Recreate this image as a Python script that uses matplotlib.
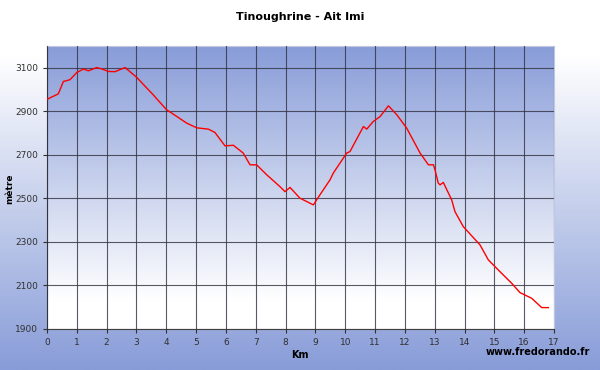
import matplotlib.pyplot as plt
import numpy as np

# profile (km, metres)
km = [0.0, 0.38, 0.55, 0.77, 1.0, 1.22, 1.39, 1.67, 1.83, 2.06, 2.28, 2.62,
      3.0, 3.56, 4.01, 4.18, 4.68, 5.02, 5.41, 5.63, 5.97, 6.25, 6.58, 6.81,
      7.03, 7.37, 7.81, 7.98, 8.15, 8.48, 8.93, 8.99, 9.04, 9.49, 9.6, 10.05,
      10.16, 10.61, 10.72, 10.94, 11.17, 11.45, 11.73, 12.06, 12.51, 12.79,
      12.96, 13.01, 13.12, 13.18, 13.29, 13.57, 13.68, 13.96, 14.52, 14.8,
      15.19, 15.58, 15.86, 16.25, 16.59, 16.81]
alt = [2955, 2980, 3037, 3045, 3078, 3094, 3086, 3101, 3095, 3083, 3082, 3101,
       3057, 2976, 2907, 2892, 2846, 2824, 2818, 2803, 2741, 2744, 2708, 2654,
       2654, 2608, 2554, 2531, 2550, 2501, 2470, 2481, 2493, 2585, 2616, 2708,
       2715, 2830, 2818, 2853, 2876, 2925, 2884, 2823, 2708, 2654,
       2654, 2631, 2570, 2562, 2573, 2493, 2439, 2370, 2286, 2217,
       2163, 2110, 2067, 2041, 1998, 1998]

xticks = list(range(0, 18))
yticks = [1900, 2100, 2300, 2500, 2700, 2900, 3100]

blue = np.array([0x88, 0x9c, 0xd8]) / 255
white = np.array([1.0, 1.0, 1.0])

fig = plt.figure(figsize=(6, 3.7), dpi=100)

# figure background gradient
bg = fig.add_axes([0, 0, 1, 1], zorder=-10)
t = np.clip((np.linspace(0, 1, 256) - 0.15) / 0.85, 0, 1)[:, None]
img = white * (1 - t[..., None]) + blue * t[..., None]
bg.imshow(img, aspect='auto', extent=[0, 1, 1, 0])
bg.axis('off')

ax = fig.add_axes([0.0783, 0.111, 0.845, 0.7647])
t2 = np.clip(np.linspace(0, 1, 256) / 0.9, 0, 1)[:, None]
img2 = blue * (1 - t2[..., None]) + white * t2[..., None]
ax.imshow(img2, aspect='auto', extent=[0, 17, 1900, 3200], zorder=0)

ax.plot(km, alt, color='red', lw=1.0, zorder=3)

ax.set_xlim(0, 17)
ax.set_ylim(1900, 3200)
ax.set_xticks(xticks)
ax.set_yticks(yticks)
ax.grid(True, color='#303040', lw=0.8, alpha=0.8)
ax.set_axisbelow(False)
for s in ['top', 'right']:
    ax.spines[s].set_color('#c0c8e0')
for s in ['left', 'bottom']:
    ax.spines[s].set_color('#404040')
ax.tick_params(labelsize=6.5, colors='#303030', length=3)

fig.text(0.5, 0.955, 'Tinoughrine - Ait Imi', ha='center', va='center',
         fontsize=8, fontweight='bold')
fig.text(0.5, 0.04, 'Km', ha='center', va='center', fontsize=7, fontweight='bold')
fig.text(0.017, 0.49, 'mètre', ha='center', va='center', rotation=90,
         fontsize=6.5, fontweight='bold')
fig.text(0.983, 0.048, 'www.fredorando.fr', ha='right', va='center',
         fontsize=7, fontweight='bold')

fig.savefig('out.png', dpi=100)
